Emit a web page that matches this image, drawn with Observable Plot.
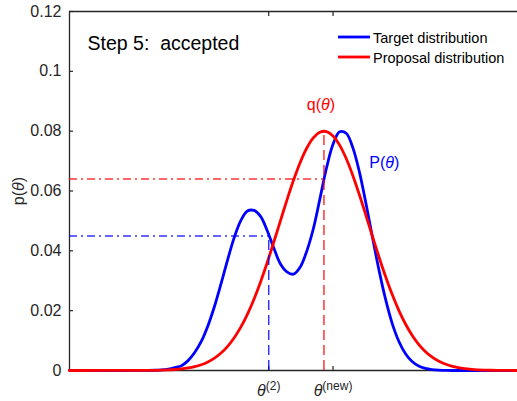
<!DOCTYPE html>
<html>
<head>
<meta charset="utf-8">
<script src="https://cdn.jsdelivr.net/npm/d3@7"></script>
<script src="https://cdn.jsdelivr.net/npm/@observablehq/plot@0.6"></script>
<style>
  html, body { margin: 0; padding: 0; background: #fff; overflow: hidden; }
  #chart svg { display: block; }
</style>
</head>
<body>
<div id="chart"></div>
<script>
// Parameter grid (θ) and the two densities evaluated on it
const thetaGrid = [-10, -7, -6.75, -6.5, -6.25, -6, -5.75, -5.5, -5.25, -5, -4.75, -4.5, -4.25, -4,
  -3.75, -3.5, -3.25, -3, -2.75, -2.5, -2.25, -2, -1.75, -1.5, -1.25, -1, -0.75, -0.5, -0.25, 0,
  0.25, 0.5, 0.75, 1, 1.25, 1.5, 1.75, 2, 2.25, 2.5, 2.75, 3, 3.25, 3.5, 3.75, 4, 4.25, 4.5, 4.75,
  5, 5.25, 5.5, 5.75, 6, 6.25, 6.5, 7];

const targetDensity = [0, 0.00004, 0.00009, 0.00021, 0.00047, 0.00097, 0.0016, 0.0033, 0.0060, 0.0097,
  0.0149, 0.0214, 0.0290, 0.0370, 0.0444, 0.0501, 0.0533, 0.0535, 0.0515, 0.0468, 0.0410, 0.0357,
  0.0330, 0.0322, 0.0345, 0.0398, 0.0473, 0.0573, 0.0676, 0.0756, 0.0798, 0.0793, 0.0745, 0.0664,
  0.0558, 0.0444, 0.0333, 0.0236, 0.0156, 0.0097, 0.0056, 0.0030, 0.0015, 0.0007, 0.0003, 0.0001,
  0.00005, 0, 0, 0, 0, 0, 0, 0, 0, 0, 0];

const proposalDensity = [0, 0.00004, 0.00007, 0.00012, 0.0002, 0.00033, 0.00053, 0.00084, 0.00129,
  0.00194, 0.00286, 0.00413, 0.00583, 0.00807, 0.01093, 0.01448, 0.01877, 0.02383, 0.02961, 0.03601,
  0.04286, 0.04994, 0.05695, 0.06357, 0.06946, 0.07428, 0.07775, 0.07966, 0.07988, 0.07841, 0.07533,
  0.07085, 0.06521, 0.05875, 0.05181, 0.04472, 0.03778, 0.03125, 0.02529, 0.02004, 0.01554, 0.01179,
  0.00876, 0.00637, 0.00454, 0.00316, 0.00215, 0.00144, 0.00094, 0.0006, 0.00038, 0.00023, 0.00014,
  0.00008, 0.00005, 0.00003, 0];

// Guide lines: current sample θ(2) and the proposal mode
const guideTheta = [-2.44, -0.345];   // where the vertical dashed guides stand
const guideTop = [0.045, 0.080];      // height each vertical guide reaches
const guideLevel = [0.045, 0.064];

// x-axis ticks and their labels
const xTicks = [-2.44, 0];
const xTickLabels = ["θ^(2)", "θ^(new)"];

// y-axis ticks
const yTicks = [0, 0.02, 0.04, 0.06, 0.08, 0.1, 0.12];
const yTickLabels = ["0", "0.02", "0.04", "0.06", "0.08", "0.1", "0.12"];

const seriesNames = ["Target distribution", "Proposal distribution"];
const title = "Step 5:\u00a0 accepted";
const yLabel = "p(θ)";
const curveLabels = ["q(θ)", "P(θ)"];
const targetPeak = {theta: 0.35, p: 0.0802};

const thetaDomain = [-10, 7];
const rows = thetaGrid.map((t, i) => ({theta: t, target: targetDensity[i], proposal: proposalDensity[i]}));
const guides = guideTheta.map((t, i) => ({theta: t, top: guideTop[i], level: guideLevel[i], color: i === 0 ? "#0000ff" : "#ff0000"}));
const ticksX = xTicks.map((t, i) => ({theta: t, label: xTickLabels[i]}));

const axisColor = "#262626";

const chart = Plot.plot({
  width: 517,
  height: 401,
  marginLeft: 69,
  marginRight: 0,
  marginTop: 11,
  marginBottom: 31,
  style: {fontFamily: "'Liberation Sans', Arial, Helvetica, sans-serif", fontSize: "16px", color: axisColor, background: "#fff", overflow: "visible"},
  x: {domain: thetaDomain, axis: null},
  y: {domain: [0, 0.12], axis: null},
  marks: [
    // axis box (left, bottom, top)
    Plot.ruleX([thetaDomain[0]], {stroke: axisColor, strokeWidth: 1.3}),
    Plot.ruleY([0], {stroke: axisColor, strokeWidth: 1.3}),
    Plot.ruleY([0.12], {stroke: axisColor, strokeWidth: 1.3}),
    // inward ticks
    Plot.axisY({ticks: yTicks, text: null, label: null, tickSize: 4, dx: 4, stroke: axisColor, strokeWidth: 1.2}),
    Plot.axisY({ticks: yTicks, label: null, tickSize: 0, tickPadding: 8, tickFormat: d => yTickLabels[yTicks.indexOf(d)], fontSize: 16, fill: axisColor}),
    Plot.axisX({anchor: "bottom", ticks: xTicks, text: null, label: null, tickSize: 4, dy: -4, stroke: axisColor, strokeWidth: 1.2}),
    Plot.axisX({anchor: "top", ticks: xTicks, text: null, label: null, tickSize: 4, dy: 4, stroke: axisColor, strokeWidth: 1.2}),
    // x tick labels
    Plot.text(ticksX, {x: "theta", text: "label", frameAnchor: "bottom", lineAnchor: "bottom", textAnchor: "middle", dy: 25, fontSize: 16, fill: axisColor}),
    // density curves
    Plot.line(rows, {x: "theta", y: "target", stroke: "#0000ff", strokeWidth: 2.8, curve: "catmull-rom"}),
    Plot.line(rows, {x: "theta", y: "proposal", stroke: "#ff0000", strokeWidth: 2.8, curve: "catmull-rom"}),
    // guides
    Plot.ruleX(guides, {x: "theta", y1: 0, y2: "top", stroke: "color", strokeWidth: 1.5, strokeOpacity: 0.8, strokeDasharray: "10,5"}),
    Plot.ruleY(guides, {y: "level", x1: thetaDomain[0], x2: "theta", stroke: "color", strokeWidth: 1.5, strokeOpacity: 0.8, strokeDasharray: "8,4,2,4"}),
    // curve annotations
    Plot.text([curveLabels[0]], {x: guideTheta[1], y: guideTop[1], text: d => d, textAnchor: "middle", lineAnchor: "bottom", dx: -3, dy: -21, fill: "#ff0000", fontSize: 16}),
    Plot.text([curveLabels[1]], {x: targetPeak.theta, y: targetPeak.p, text: d => d, textAnchor: "middle", lineAnchor: "bottom", dx: 42, dy: 37, fill: "#0000ff", fontSize: 16}),
    // title inside the axes
    Plot.text([title], {text: d => d, frameAnchor: "top-left", textAnchor: "start", lineAnchor: "top", dx: 18, dy: 25, fontSize: 19.5, fill: "#000"}),
    // y label
    Plot.text([yLabel], {text: d => d, frameAnchor: "left", rotate: -90, textAnchor: "middle", lineAnchor: "middle", dx: -51, fontSize: 16, fill: axisColor})
  ]
});

const svg = d3.select(chart);

// Italic θ and superscripts in text labels
svg.selectAll("text").each(function () {
  const s = this.textContent;
  if (!/[θ^]/.test(s) || this.querySelector("tspan")) return;
  const [base, sup] = s.split("^");
  const el = d3.select(this);
  this.textContent = "";
  base.split(/(θ)/).forEach(part => {
    if (!part) return;
    const t = el.append("tspan").text(part);
    if (part === "θ") t.attr("font-style", "italic");
  });
  if (sup) el.append("tspan").attr("dy", "-0.45em").attr("font-size", "0.75em").text(sup);
});

// Legend
const legend = svg.append("g").attr("font-size", 14.5).attr("fill", "#000").attr("text-anchor", "start");
seriesNames.forEach((name, i) => {
  const y = 37 + i * 20;
  legend.append("line").attr("x1", 338).attr("x2", 370).attr("y1", y).attr("y2", y)
    .attr("stroke", i === 0 ? "#0000ff" : "#ff0000").attr("stroke-width", 2.8);
  legend.append("text").attr("x", 373).attr("y", y + 5.5).text(name);
});

document.getElementById("chart").appendChild(chart);
</script>
</body>
</html>
